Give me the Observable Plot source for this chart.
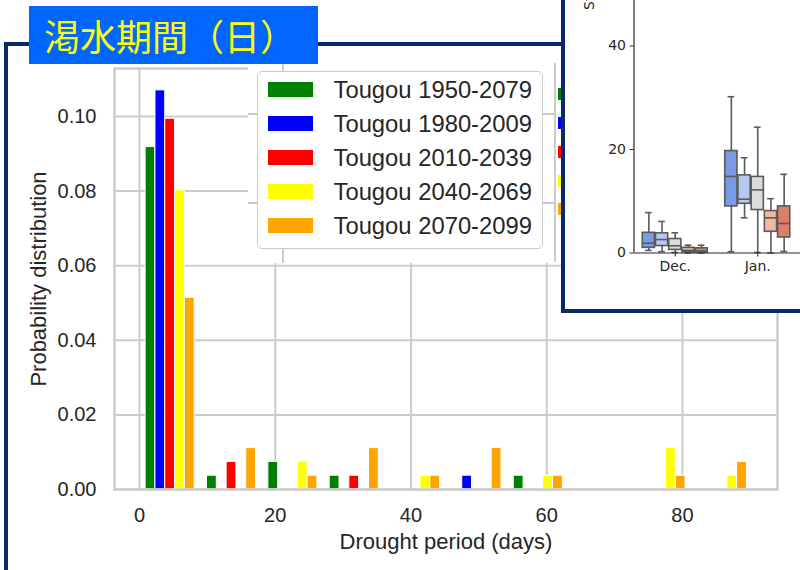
<!DOCTYPE html>
<html><head><meta charset="utf-8">
<script src="https://cdn.jsdelivr.net/npm/d3@7"></script>
<script src="https://cdn.jsdelivr.net/npm/@observablehq/plot@0.6"></script>
<style>
html,body{margin:0;padding:0;background:#fff;overflow:hidden;}
#stage{position:relative;width:800px;height:570px;overflow:hidden;background:#fff;}
#main{position:absolute;left:0;top:0;}
#patch{position:absolute;left:248px;top:60px;width:314px;height:203px;background:#fff;}
#ghost{position:absolute;left:0;top:0;width:0;height:0;}
.gl{position:absolute;background:#cccccc;}
.legend{position:absolute;box-sizing:border-box;background:#fff;font-family:"Liberation Sans",Arial,sans-serif;color:#262626;}
.row{display:flex;align-items:center;}
.sw{flex:none;}
#navy{position:absolute;left:4px;top:42px;width:1000px;height:800px;border-left:4px solid #0b2868;border-top:4px solid #0b2868;}
#inset{position:absolute;left:561px;top:-300px;width:320px;height:613px;box-sizing:border-box;border:4.5px solid #0b2868;background:#fff;overflow:hidden;}
#inset svg{position:absolute;left:0;top:0;}
#title{position:absolute;left:29px;top:6px;width:289px;height:58px;background:#0066ff;color:#ffff00;font-family:"Noto Sans CJK JP",sans-serif;font-size:36px;line-height:58px;padding-left:15px;box-sizing:border-box;white-space:nowrap;}
</style></head>
<body><div id="stage">
<div id="main"></div>
<div id="patch"></div>
<div id="ghost"></div>
<div id="navy"></div>
<div id="inset"></div>
<div id="title">渇水期間（日）</div>
</div>
<script>
// ---------- main histogram data ----------
const periods = ["Tougou 1950-2079", "Tougou 1980-2009", "Tougou 2010-2039", "Tougou 2040-2069", "Tougou 2070-2099"];
const colors = ["#008000", "#0000ff", "#ff0000", "#ffff00", "#ffa500"];
const binStarts = [0, 9.04, 18.08, 27.12, 36.16, 45.2, 54.24, 63.28, 72.32, 81.36];
const binWidth = 9.04;
const p1950 = [0.0918, 0.0037, 0.0074, 0.0037, 0, 0, 0.0037, 0, 0, 0];
const p1980 = [0.107, 0, 0, 0, 0, 0.0037, 0, 0, 0, 0];
const p2010 = [0.0994, 0.0074, 0, 0.0037, 0, 0, 0, 0, 0, 0];
const p2040 = [0.0802, 0, 0.0074, 0, 0.0037, 0, 0.0037, 0, 0.0111, 0.0037];
const p2070 = [0.0514, 0.0111, 0.0037, 0.0111, 0.0037, 0.0111, 0.0037, 0, 0.0037, 0.0074];
const xTicks = [0, 20, 40, 60, 80];
const yTicks = [0, 0.02, 0.04, 0.06, 0.08, 0.10];
const xLabel = "Drought period (days)";
const yLabel = "Probability distribution";

// ---------- inset boxplot data ----------
const months = ["Dec.", "Jan."];
const boxColors = ["#7b9ae6", "#b3cbf2", "#dcdcdc", "#efb9a3", "#dc7f6a"];
const whiskerLow  = [[0.5, 0.25, 0.1, 0, 0], [0.25, 6.8, 0.1, 0, 0.3]];
const quart1      = [[1.0, 1.35, 0.6, 0.15, 0.1], [9.0, 9.5, 8.3, 4.1, 3.0]];
const medians     = [[1.9, 2.6, 1.4, 0.5, 0.4], [14.8, 10.4, 12.2, 6.8, 5.7]];
const quart3      = [[3.9, 3.8, 2.7, 1.0, 0.9], [19.7, 15.0, 14.7, 8.1, 9.0]];
const whiskerHigh = [[7.8, 6.1, 3.9, 1.5, 1.5], [30.2, 18.4, 24.3, 10.5, 15.2]];
const insetYTicks = [0, 20, 40];
const insetYLabel = "Streamflow (mm)";

// ---------- main chart ----------
const series = [p1950, p1980, p2010, p2040, p2070];
const rows = [];
series.forEach((vals, j) => vals.forEach((v, i) => {
  if (v > 0) rows.push({period: periods[j], j, x1: binStarts[i] + binWidth * (0.1 + 0.16 * j), x2: binStarts[i] + binWidth * (0.26 + 0.16 * j), v});
}));
const grid = {stroke: "#cccccc", strokeOpacity: 1, strokeWidth: 2};
const main = Plot.plot({
  width: 800, height: 570,
  marginLeft: 114, marginRight: 23, marginTop: 68, marginBottom: 81,
  style: {fontFamily: "'Liberation Sans', Arial, sans-serif", fontSize: "20px", color: "#262626", background: "transparent"},
  x: {domain: [-3.68, 94.0]},
  y: {domain: [0, 0.11287]},
  color: {domain: periods, range: colors},
  marks: [
    Plot.gridX(xTicks, grid),
    Plot.gridY(yTicks, grid),
    Plot.rectY(rows, {x1: "x1", x2: "x2", y: "v", fill: "period", stroke: "white", strokeWidth: 1}),
    Plot.frame({stroke: "#cccccc", strokeWidth: 2.5}),
    Plot.axisX({ticks: xTicks, tickSize: 0, tickPadding: 18, label: null, fontSize: 20}),
    Plot.axisY({ticks: yTicks, tickSize: 0, tickPadding: 18, label: null, tickFormat: d3.format(".2f"), fontSize: 20}),
    Plot.text([xLabel], {text: d => d, frameAnchor: "bottom", dy: 52, lineAnchor: "middle", textAnchor: "middle", fontSize: 22, fill: "#262626"}),
    Plot.text([yLabel], {text: d => d, frameAnchor: "left", dx: -76, rotate: -90, textAnchor: "middle", lineAnchor: "middle", fontSize: 22, fill: "#262626"})
  ]
});
document.getElementById("main").appendChild(main);

// ---------- pasted legend patch ----------
const patch = document.getElementById("patch");
function line(parent, l, t, w, h) {
  const d = document.createElement("div");
  d.className = "gl";
  Object.assign(d.style, {left: l + "px", top: t + "px", width: w + "px", height: h + "px"});
  parent.appendChild(d);
}
line(patch, 34, 0, 2, 203);
line(patch, 306, 3, 2, 199);
line(patch, 0, 53, 308, 2);
line(patch, 0, 142, 308, 2);

function legend(parent, opts) {
  const lg = document.createElement("div");
  lg.className = "legend";
  Object.assign(lg.style, opts.style);
  periods.forEach((p, j) => {
    const r = document.createElement("div");
    r.className = "row";
    r.style.height = opts.rowH + "px";
    const s = document.createElement("div");
    s.className = "sw";
    Object.assign(s.style, {width: opts.swW + "px", height: opts.swH + "px", background: colors[j], marginLeft: opts.swL + "px"});
    r.appendChild(s);
    if (opts.text) {
      const t = document.createElement("span");
      t.textContent = p;
      t.style.marginLeft = opts.gap + "px";
      t.style.fontSize = opts.fontSize + "px";
      t.style.whiteSpace = "nowrap";
      r.appendChild(t);
    }
    lg.appendChild(r);
  });
  parent.appendChild(lg);
}
legend(patch, {
  style: {left: "9px", top: "11px", width: "286px", height: "178px", border: "1.5px solid #cccccc", borderRadius: "5px", paddingTop: "0.5px"},
  rowH: 34.1, swW: 45, swH: 15, swL: 9.5, gap: 21, fontSize: 23.8, text: true
});
legend(document.getElementById("ghost"), {
  style: {left: "558px", top: "80px", width: "60px", height: "150px", background: "transparent"},
  rowH: 28.75, swW: 45, swH: 12, swL: 0, text: false
});

// ---------- inset boxplot ----------
const boxes = [];
months.forEach((m, i) => boxColors.forEach((c, j) => {
  boxes.push({i, j, x: i - 0.32 + 0.16 * j, lo: whiskerLow[i][j], q1: quart1[i][j], med: medians[i][j], q3: quart3[i][j], hi: whiskerHigh[i][j]});
}));
const bl = {stroke: "#5a5a5a", strokeWidth: 1.6};
const inset = Plot.plot({
  width: 410, height: 604,
  marginLeft: 68.5, marginRight: 11.5, marginTop: 238, marginBottom: 55.5,
  style: {fontFamily: "'DejaVu Sans', sans-serif", fontSize: "14px", color: "#262626", background: "white", maxWidth: "none"},
  x: {domain: [-0.5, 3.5]},
  y: {domain: [0, 60]},
  color: {type: "identity"},
  marks: [
    Plot.ruleX(boxes, {x: "x", y1: "lo", y2: "q1", ...bl}),
    Plot.ruleX(boxes, {x: "x", y1: "q3", y2: "hi", ...bl}),
    Plot.ruleY(boxes, {y: "lo", x1: d => d.x - 0.04, x2: d => d.x + 0.04, ...bl}),
    Plot.ruleY(boxes, {y: "hi", x1: d => d.x - 0.04, x2: d => d.x + 0.04, ...bl}),
    Plot.rect(boxes, {x1: d => d.x - 0.074, x2: d => d.x + 0.074, y1: "q1", y2: "q3", fill: d => boxColors[d.j], ...bl}),
    Plot.ruleY(boxes, {y: "med", x1: d => d.x - 0.074, x2: d => d.x + 0.074, ...bl}),
    Plot.ruleX([-0.5], {stroke: "#262626", strokeWidth: 1.2}),
    Plot.ruleY([0], {stroke: "#262626", strokeWidth: 1.2}),
    Plot.axisY({ticks: insetYTicks, tickSize: 4, tickPadding: 4, label: null, fontSize: 14, stroke: "#262626"}),
    Plot.axisX({ticks: [0, 1], tickFormat: i => months[i], tickSize: 4, tickPadding: 4, label: null, fontSize: 14, stroke: "#262626"}),
    Plot.text([insetYLabel], {text: d => d, frameAnchor: "top-left", dx: -50, dy: 67.5, rotate: -90, textAnchor: "start", fontSize: 14, fill: "#262626"})
  ]
});
document.getElementById("inset").appendChild(inset);
</script>
</body></html>
